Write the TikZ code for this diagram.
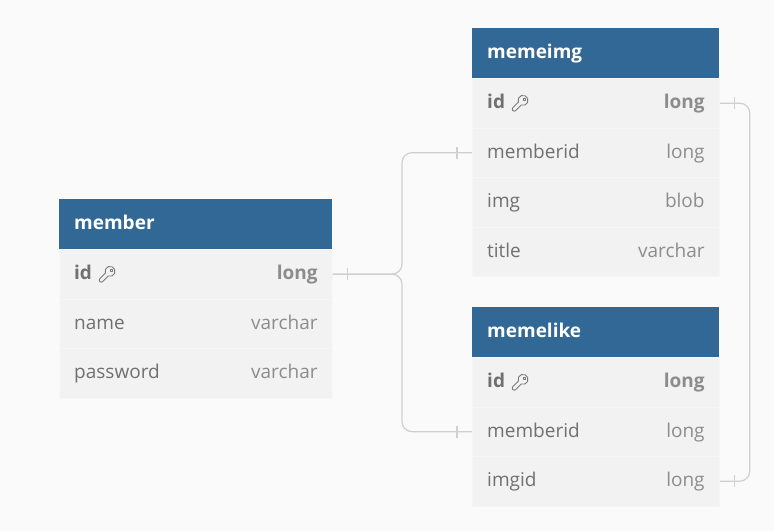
\documentclass[tikz,border=0pt]{standalone}
\usepackage{fontspec}
\setmainfont{Open Sans}
\usetikzlibrary{calc}
\definecolor{bgc}{HTML}{FAFAFA}
\definecolor{hdr}{HTML}{316896}
\definecolor{rowc}{HTML}{F2F2F2}
\definecolor{sepc}{HTML}{F6F6F6}
\definecolor{namec}{HTML}{707070}
\definecolor{typec}{HTML}{8C8C8C}
\definecolor{connc}{HTML}{CFCFCF}
\definecolor{keyc}{HTML}{7A7A7A}
\tikzset{
  hdrbox/.style={fill=hdr, draw=none, minimum height=50pt, inner sep=0pt, anchor=north west},
  rowbox/.style={fill=rowc, draw=sepc, line width=0.8pt, minimum height=49.5pt, inner sep=0pt, anchor=north west},
  hdrtxt/.style={text=white, font=\fontsize{19pt}{23pt}\selectfont\bfseries, inner sep=0pt, anchor=base west},
  nametxt/.style={text=namec, font=\fontsize{19pt}{23pt}\selectfont, inner sep=0pt, anchor=base west},
  typetxt/.style={text=typec, font=\fontsize{19pt}{23pt}\selectfont, inner sep=0pt, anchor=base east},
  conn/.style={draw=connc, line width=1.2pt},
  tick/.style={draw=connc, line width=1.2pt},
  keyicon/.style={draw=keyc, line width=0.9pt, line join=round}
}
\newcommand{\ertable}[5]{% name, x, y, width, title
  \node[hdrbox, minimum width=#4pt] (#1) at (#2,#3) {};
  \node[hdrtxt] (#1-title) at ($(#1.west)+(15pt,-5.5pt)$) {#5};
}
\newcommand{\erfield}[6]{% node, x, y, width, field, type
  \node[rowbox, minimum width=#4pt] (#1) at (#2,#3) {};
  \node[nametxt] (#1-n) at ($(#1.west)+(15pt,-5.5pt)$) {#5};
  \node[typetxt] (#1-t) at ($(#1.east)+(-15pt,-5.5pt)$) {#6};
}
\newcommand{\erkey}[1]{% key icon right of a name node
  \begin{scope}[shift={($(#1.base east)+(15pt,5.5pt)$)}, rotate=45]
    \draw[keyicon] (-0.58pt,2pt) arc[start angle=156.4, end angle=-156.4, radius=5pt]
      -- (-8.5pt,-2pt) arc[start angle=270, end angle=90, radius=2pt] -- cycle;
    \draw[keyicon] (5.6pt,0pt) circle (1.2pt);
  \end{scope}
}
\begin{document}
\begin{tikzpicture}[x=1pt,y=-1pt]
\fill[bgc] (0,0) rectangle (774,531);
\useasboundingbox (0,0) rectangle (774,531);
% member
\ertable{member}{59}{199}{273}{member}
\erfield{member-id}{59}{249}{273}{\bfseries id}{\bfseries long}
\erfield{member-name}{59}{298.5}{273}{name}{varchar}
\erfield{member-password}{59}{348}{273}{password}{varchar}
\erkey{member-id-n}
% memeimg
\ertable{memeimg}{472}{28}{247}{memeimg}
\erfield{memeimg-id}{472}{78}{247}{\bfseries id}{\bfseries long}
\erfield{memeimg-memberid}{472}{127.5}{247}{memberid}{long}
\erfield{memeimg-img}{472}{177}{247}{img}{blob}
\erfield{memeimg-title}{472}{226.5}{247}{title}{varchar}
\erkey{memeimg-id-n}
% memelike
\ertable{memelike}{472}{307}{247}{memelike}
\erfield{memelike-id}{472}{357}{247}{\bfseries id}{\bfseries long}
\erfield{memelike-memberid}{472}{406.5}{247}{memberid}{long}
\erfield{memelike-imgid}{472}{456}{247}{imgid}{long}
\erkey{memelike-id-n}
% connectors
\draw[conn, rounded corners=10pt] (member-id.east) -| ([xshift=-70pt]memeimg-memberid.west) -- (memeimg-memberid.west);
\draw[conn, rounded corners=10pt] (member-id.east) -| ([xshift=-70pt]memelike-memberid.west) -- (memelike-memberid.west);
\draw[conn, rounded corners=10pt] (memeimg-id.east) -| ([xshift=30pt]memelike-imgid.east) -- (memelike-imgid.east);
% ticks
\draw[tick] ([xshift=15pt,yshift=-6pt]member-id.east) -- ([xshift=15pt,yshift=6pt]member-id.east);
\draw[tick] ([xshift=-15pt,yshift=-6pt]memeimg-memberid.west) -- ([xshift=-15pt,yshift=6pt]memeimg-memberid.west);
\draw[tick] ([xshift=-15pt,yshift=-6pt]memelike-memberid.west) -- ([xshift=-15pt,yshift=6pt]memelike-memberid.west);
\draw[tick] ([xshift=15pt,yshift=-6pt]memeimg-id.east) -- ([xshift=15pt,yshift=6pt]memeimg-id.east);
\draw[tick] ([xshift=15pt,yshift=-6pt]memelike-imgid.east) -- ([xshift=15pt,yshift=6pt]memelike-imgid.east);
\end{tikzpicture}
\end{document}
